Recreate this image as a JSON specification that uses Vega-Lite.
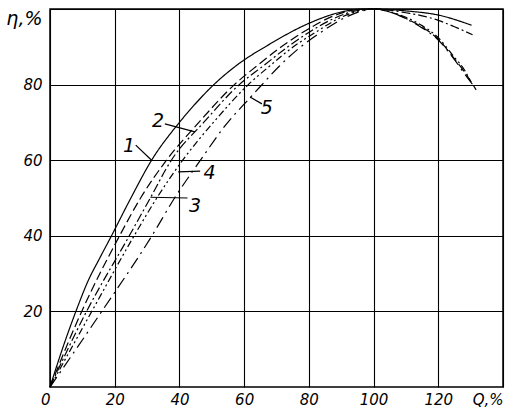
{
  "$schema": "https://vega.github.io/schema/vega-lite/v6.json",
  "width": 453,
  "height": 378,
  "autosize": "none",
  "padding": {"left": 50, "top": 9, "right": 7, "bottom": 28},
  "background": "white",
  "config": {
    "view": {"stroke": "#000", "strokeWidth": 1.5},
    "axis": {
      "grid": true, "gridColor": "#000", "gridWidth": 1.1, "gridOpacity": 1,
      "domain": false, "ticks": false,
      "labelFont": "DejaVu Sans", "labelFontStyle": "italic", "labelFontSize": 15,
      "labelColor": "#000", "title": null
    }
  },
  "datasets": {
    "curves": [
      {"curve": "1", "Q": 0, "eta": 0}, {"curve": "1", "Q": 4, "eta": 10.5}, {"curve": "1", "Q": 8, "eta": 20},
      {"curve": "1", "Q": 12, "eta": 28.5}, {"curve": "1", "Q": 15, "eta": 33.5}, {"curve": "1", "Q": 19, "eta": 40},
      {"curve": "1", "Q": 25, "eta": 50}, {"curve": "1", "Q": 31.4, "eta": 60}, {"curve": "1", "Q": 40, "eta": 70},
      {"curve": "1", "Q": 45, "eta": 75}, {"curve": "1", "Q": 50.4, "eta": 79.8}, {"curve": "1", "Q": 58, "eta": 85.3},
      {"curve": "1", "Q": 67.5, "eta": 90.5},
      {"curve": "1", "Q": 80, "eta": 96.2}, {"curve": "1", "Q": 90, "eta": 99.2}, {"curve": "1", "Q": 97, "eta": 100},
      {"curve": "1", "Q": 104, "eta": 99.9}, {"curve": "1", "Q": 110, "eta": 99.5}, {"curve": "1", "Q": 120, "eta": 98.4},
      {"curve": "1", "Q": 130.3, "eta": 95.7},

      {"curve": "2", "Q": 0, "eta": 0}, {"curve": "2", "Q": 9.8, "eta": 20}, {"curve": "2", "Q": 21.5, "eta": 40},
      {"curve": "2", "Q": 28, "eta": 50}, {"curve": "2", "Q": 36, "eta": 60}, {"curve": "2", "Q": 46, "eta": 70},
      {"curve": "2", "Q": 57, "eta": 80}, {"curve": "2", "Q": 64, "eta": 85}, {"curve": "2", "Q": 71.5, "eta": 90},
      {"curve": "2", "Q": 80, "eta": 94.8}, {"curve": "2", "Q": 88, "eta": 98.3}, {"curve": "2", "Q": 95, "eta": 99.8},
      {"curve": "2", "Q": 100, "eta": 100}, {"curve": "2", "Q": 105, "eta": 99.2}, {"curve": "2", "Q": 110, "eta": 97.5},
      {"curve": "2", "Q": 115, "eta": 95.2}, {"curve": "2", "Q": 120, "eta": 92}, {"curve": "2", "Q": 125, "eta": 86.8},
      {"curve": "2", "Q": 128, "eta": 83.5}, {"curve": "2", "Q": 131.7, "eta": 78.6},

      {"curve": "3", "Q": 0, "eta": 0}, {"curve": "3", "Q": 11.3, "eta": 20}, {"curve": "3", "Q": 24.5, "eta": 40},
      {"curve": "3", "Q": 31, "eta": 50}, {"curve": "3", "Q": 37.5, "eta": 60}, {"curve": "3", "Q": 47.5, "eta": 70},
      {"curve": "3", "Q": 58.5, "eta": 80}, {"curve": "3", "Q": 66, "eta": 85}, {"curve": "3", "Q": 73.5, "eta": 90},
      {"curve": "3", "Q": 80, "eta": 93.8}, {"curve": "3", "Q": 88, "eta": 97.6}, {"curve": "3", "Q": 95, "eta": 99.6},
      {"curve": "3", "Q": 100, "eta": 100}, {"curve": "3", "Q": 105, "eta": 99.7}, {"curve": "3", "Q": 110, "eta": 99},
      {"curve": "3", "Q": 115, "eta": 98.2}, {"curve": "3", "Q": 120, "eta": 97}, {"curve": "3", "Q": 125, "eta": 95.3},
      {"curve": "3", "Q": 130.6, "eta": 93.2},

      {"curve": "4", "Q": 0, "eta": 0}, {"curve": "4", "Q": 12.9, "eta": 20}, {"curve": "4", "Q": 26, "eta": 40},
      {"curve": "4", "Q": 33, "eta": 50}, {"curve": "4", "Q": 41, "eta": 60}, {"curve": "4", "Q": 50.5, "eta": 70},
      {"curve": "4", "Q": 61.3, "eta": 80}, {"curve": "4", "Q": 68, "eta": 85}, {"curve": "4", "Q": 75.2, "eta": 90},
      {"curve": "4", "Q": 82, "eta": 93.8}, {"curve": "4", "Q": 89, "eta": 97.4}, {"curve": "4", "Q": 95, "eta": 99.4},
      {"curve": "4", "Q": 100, "eta": 100}, {"curve": "4", "Q": 105, "eta": 99.3}, {"curve": "4", "Q": 110, "eta": 97.8},
      {"curve": "4", "Q": 115, "eta": 95.6}, {"curve": "4", "Q": 120, "eta": 92.4}, {"curve": "4", "Q": 125, "eta": 87.2},
      {"curve": "4", "Q": 128, "eta": 84}, {"curve": "4", "Q": 130, "eta": 80.8},

      {"curve": "5", "Q": 0, "eta": 0}, {"curve": "5", "Q": 16, "eta": 20}, {"curve": "5", "Q": 31.5, "eta": 40},
      {"curve": "5", "Q": 38.5, "eta": 50}, {"curve": "5", "Q": 46.5, "eta": 60}, {"curve": "5", "Q": 54, "eta": 69},
      {"curve": "5", "Q": 61.8, "eta": 76.5}, {"curve": "5", "Q": 65, "eta": 79.5}, {"curve": "5", "Q": 71, "eta": 85},
      {"curve": "5", "Q": 77.5, "eta": 90}, {"curve": "5", "Q": 84, "eta": 94}, {"curve": "5", "Q": 90, "eta": 97.2},
      {"curve": "5", "Q": 96, "eta": 99.4}, {"curve": "5", "Q": 101, "eta": 100}, {"curve": "5", "Q": 106, "eta": 99},
      {"curve": "5", "Q": 110, "eta": 97.4}, {"curve": "5", "Q": 115, "eta": 95}, {"curve": "5", "Q": 120, "eta": 91.8},
      {"curve": "5", "Q": 125, "eta": 86.6}, {"curve": "5", "Q": 128, "eta": 83}, {"curve": "5", "Q": 131.5, "eta": 79}
    ],
    "leaders": [
      {"curve": "1", "Q": 26.5, "eta": 64, "Q2": 31.4, "eta2": 60},
      {"curve": "2", "Q": 35.5, "eta": 69.6, "Q2": 44.8, "eta2": 67.5},
      {"curve": "3", "Q": 42.5, "eta": 50, "Q2": 31, "eta2": 50.2},
      {"curve": "4", "Q": 46.4, "eta": 57.1, "Q2": 39.6, "eta2": 56.9},
      {"curve": "5", "Q": 65.5, "eta": 74.9, "Q2": 61.8, "eta2": 76.7}
    ],
    "labels": [
      {"curve": "1", "Q": 24.4, "eta": 63.8},
      {"curve": "2", "Q": 33.4, "eta": 70.4},
      {"curve": "3", "Q": 44.8, "eta": 47.9},
      {"curve": "4", "Q": 49.3, "eta": 56.6},
      {"curve": "5", "Q": 67, "eta": 73.8}
    ]
  },
  "layer": [
    {
      "data": {"name": "curves"},
      "mark": {"type": "line", "interpolate": "monotone", "color": "#000", "strokeWidth": 1.2},
      "encoding": {
        "x": {
          "field": "Q", "type": "quantitative",
          "scale": {"domain": [0, 140], "nice": false, "zero": false},
          "axis": {
            "values": [0, 20, 40, 60, 80, 100, 120, 140],
            "labelExpr": "datum.value == 140 ? 'Q,%' : datum.label",
            "labelAlign": {"expr": "datum.value == 140 ? 'right' : (datum.value == 0 ? 'right' : 'center')"},
            "labelPadding": 5, "labelFlush": false
          }
        },
        "y": {
          "field": "eta", "type": "quantitative",
          "scale": {"domain": [0, 100], "nice": false},
          "axis": {
            "values": [20, 40, 60, 80, 100],
            "labelExpr": "datum.value == 100 ? 'η,%' : datum.label",
            "labelFontSize": {"condition": {"test": "datum.value == 100", "value": 19}, "value": 15},
            "labelBaseline": {"expr": "datum.value == 100 ? 'top' : 'middle'"},
            "labelPadding": 8, "labelFlush": false
          }
        },
        "detail": {"field": "curve", "type": "nominal"},
        "strokeDash": {
          "field": "curve", "type": "nominal",
          "scale": {"domain": ["1", "2", "3", "4", "5"], "range": [[1, 0], [9, 4], [9, 3, 2, 3], [7, 3, 2, 3, 2, 3], [12, 5, 2, 5]]},
          "legend": null
        }
      }
    },
    {
      "data": {"name": "leaders"},
      "mark": {"type": "rule", "color": "#000", "strokeWidth": 1.2},
      "encoding": {
        "x": {"field": "Q", "type": "quantitative"},
        "y": {"field": "eta", "type": "quantitative"},
        "x2": {"field": "Q2"},
        "y2": {"field": "eta2"}
      }
    },
    {
      "data": {"name": "labels"},
      "mark": {"type": "text", "font": "DejaVu Sans", "fontStyle": "italic", "fontSize": 19, "color": "#000", "align": "center", "baseline": "middle"},
      "encoding": {
        "x": {"field": "Q", "type": "quantitative"},
        "y": {"field": "eta", "type": "quantitative"},
        "text": {"field": "curve", "type": "nominal"}
      }
    }
  ]
}
